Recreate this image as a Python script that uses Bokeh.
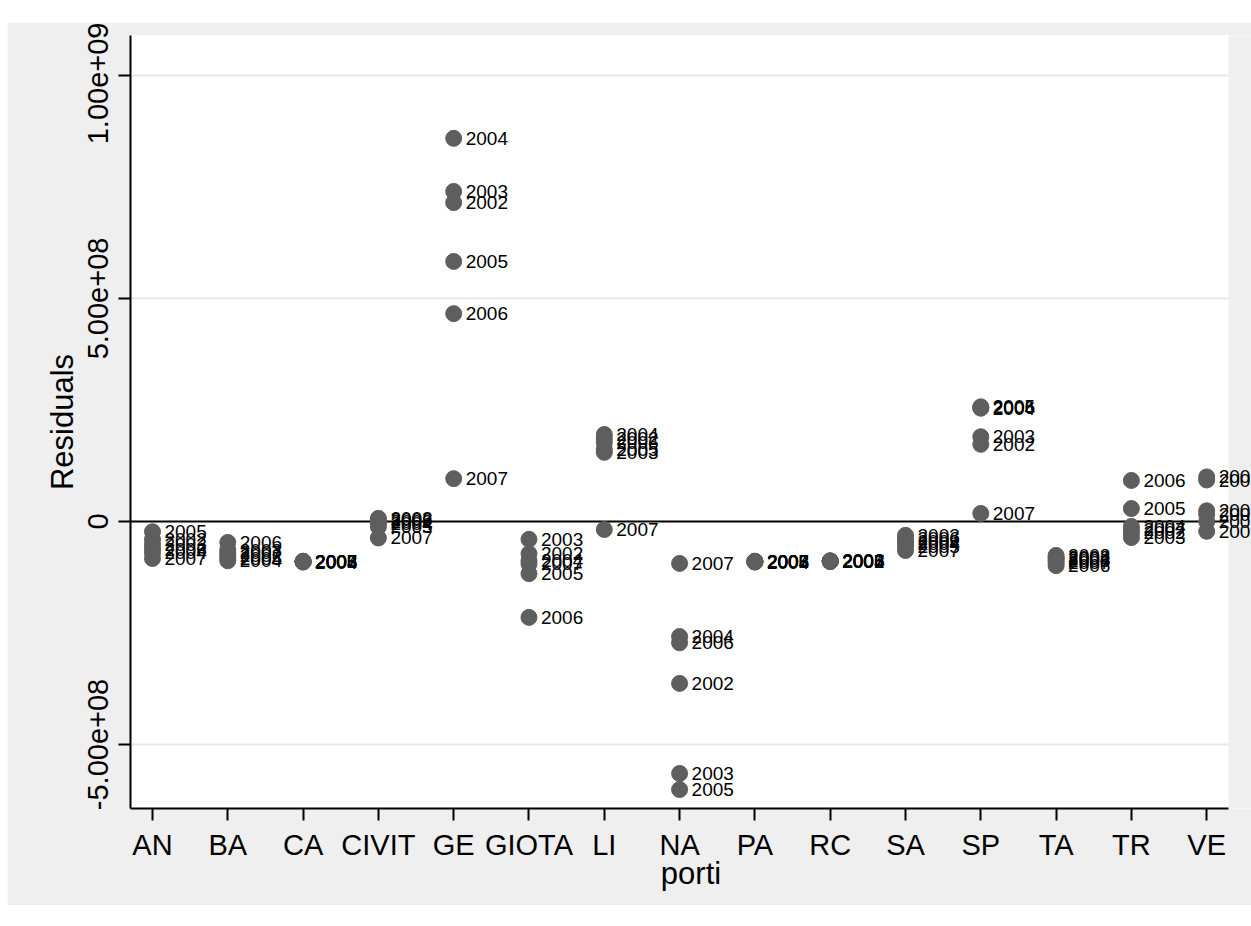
import math
from bokeh.plotting import figure
from bokeh.models import ColumnDataSource, FixedTicker, Span
from bokeh.core.properties import value
from bokeh.embed import file_html
from bokeh.resources import INLINE

ports = ["AN", "BA", "CA", "CIVIT", "GE", "GIOTA", "LI", "NA", "PA", "RC", "SA", "SP", "TA", "TR", "VE"]
years = [2002, 2003, 2004, 2005, 2006, 2007]
res_2002 = [-4.0e7, -7.6e7, -9.0e7, 0.0, 7.15e8, -7.2e7, 1.86e8, -3.63e8, -9.0e7, -8.9e7, -4.5e7, 1.73e8, -8.0e7, -2.5e7, 1.0e8]
res_2003 = [-5.2e7, -6.4e7, -8.9e7, 7.0e6, 7.40e8, -4.0e7, 1.55e8, -5.65e8, -8.9e7, -8.8e7, -3.1e7, 1.90e8, -7.6e7, -3.6e7, 9.3e7]
res_2004 = [-7.0e7, -8.8e7, -9.1e7, -5.0e6, 8.59e8, -8.8e7, 1.95e8, -2.58e8, -9.1e7, -9.0e7, -4.9e7, 2.54e8, -8.4e7, -1.1e7, 2.4e7]
res_2005 = [-2.3e7, -8.3e7, -9.0e7, -1.2e7, 5.83e8, -1.17e8, 1.62e8, -6.01e8, -9.0e7, -8.9e7, -5.6e7, 2.57e8, -8.8e7, 2.9e7, 1.6e7]
res_2006 = [-6.2e7, -4.7e7, -8.95e7, 4.0e6, 4.66e8, -2.15e8, 1.77e8, -2.72e8, -8.95e7, -8.85e7, -3.8e7, 2.55e8, -9.9e7, 9.2e7, 0.0]
res_2007 = [-8.3e7, -7.0e7, -9.05e7, -3.7e7, 9.6e7, -9.5e7, -1.8e7, -9.4e7, -9.05e7, -8.95e7, -6.5e7, 1.8e7, -9.3e7, -1.8e7, -2.2e7]
y_ticks = [-5e8, 0, 5e8, 1e9]
y_tick_labels = ["-5.00e+08", "0", "5.00e+08", "1.00e+09"]

series = [res_2002, res_2003, res_2004, res_2005, res_2006, res_2007]
xs, ys, labs = [], [], []
for yr, vals in zip(years, series):
    for i, v in enumerate(vals):
        xs.append(i + 1)
        ys.append(v)
        labs.append(str(yr))
src = ColumnDataSource(dict(x=xs, y=ys, lab=labs))

FONT = "Liberation Sans"
BG = "#efefef"
X0, X1 = 0.708, 15.29          # plot-region extent (Stata plotregion)
XR = 15.595                      # frame reaches canvas edge so labels spill over the margin
p = figure(width=1244, height=883, margin=(22, 0, 0, 7),
           x_range=(X0, XR), y_range=(-6.435e8, 1.0896e9),
           output_backend="svg", toolbar_location=None,
           min_border_left=123, min_border_right=0, min_border_top=13, min_border_bottom=97)
p.background_fill_color = "white"
p.border_fill_color = BG
p.outline_line_color = None

p.xgrid.visible = False
p.ygrid.ticker = FixedTicker(ticks=[t for t in y_ticks if t != 0])
p.ygrid.grid_line_color = "#e8e8e8"
p.ygrid.grid_line_width = 2

p.add_layout(Span(location=0, dimension="width", line_color="black", line_width=2, level="underlay"))

p.scatter("x", "y", source=src, size=16, fill_color="#5e5e5e", line_color="#5e5e5e")
# grey graph-region margin to the right of the plot region (labels are drawn over it)
p.quad(left=[X1], right=[XR + 1], bottom=[-1e10], top=[1e10], fill_color=BG, line_color=None)
p.text("x", "y", text="lab", source=src, x_offset=12, text_baseline="middle",
       text_font=value(FONT), text_font_size="19px", text_color="black")

# axes
p.xaxis.ticker = FixedTicker(ticks=list(range(1, len(ports) + 1)))
p.xaxis.major_label_overrides = {i + 1: s for i, s in enumerate(ports)}
p.xaxis.axis_label = "porti"
p.xaxis.bounds = (X0, X1)
p.yaxis.ticker = FixedTicker(ticks=y_ticks)
p.yaxis.major_label_overrides = {t: s for t, s in zip(y_ticks, y_tick_labels)}
p.yaxis.axis_label = "Residuals"
p.yaxis.major_label_orientation = "vertical"

for ax in (p.xaxis[0], p.yaxis[0]):
    ax.axis_line_color = "black"
    ax.axis_line_width = 2
    ax.major_tick_line_color = "black"
    ax.major_tick_line_width = 2
    ax.major_tick_out = 12
    ax.major_tick_in = 0
    ax.minor_tick_line_color = None
    ax.major_label_text_font = FONT
    ax.major_label_text_font_size = "29px"
    ax.major_label_text_color = "black"
    ax.axis_label_text_font = FONT
    ax.axis_label_text_font_size = "31px"
    ax.axis_label_text_font_style = "normal"
    ax.axis_label_text_color = "black"

p.xaxis.major_label_standoff = 8
p.xaxis.axis_label_standoff = -8
p.yaxis.major_label_standoff = 10
p.yaxis.axis_label_standoff = 6

open("out.html", "w").write(file_html(p, INLINE))
